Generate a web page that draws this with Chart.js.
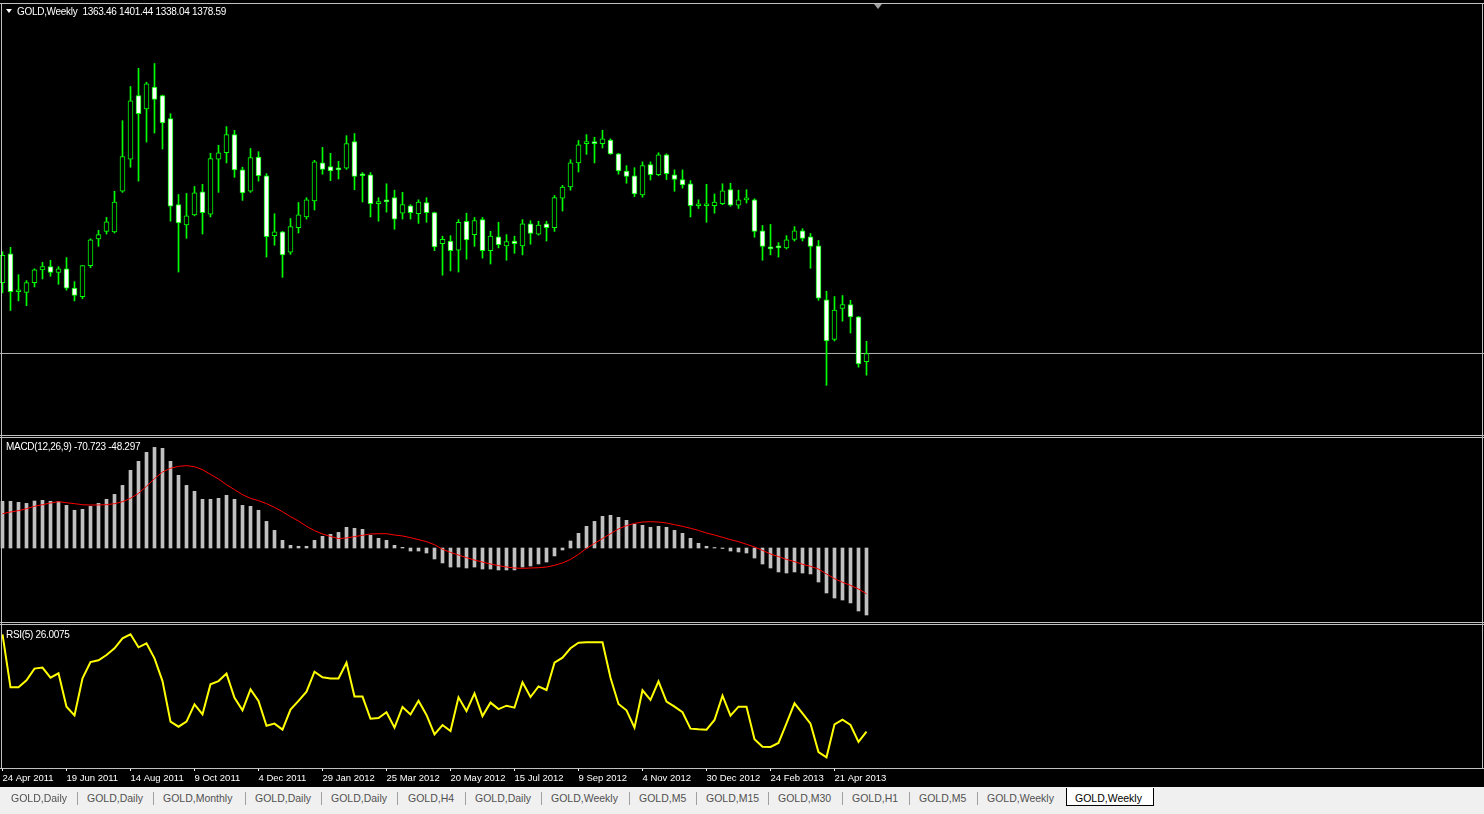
<!DOCTYPE html>
<html><head><meta charset="utf-8">
<script src="https://cdn.jsdelivr.net/npm/chart.js@4/dist/chart.umd.min.js"></script>
<style>
html,body{margin:0;padding:0;background:#f0f0f0;width:1484px;height:814px;overflow:hidden}
#win{position:absolute;left:0;top:0;width:1484px;height:787px;background:#000}
.ln{position:absolute;background:#c0c0c0}
canvas{position:absolute;left:0}
.lbl{position:absolute;color:#fff;font:10px "Liberation Sans",sans-serif;white-space:pre;line-height:12px;letter-spacing:-0.3px}
#tabs{position:absolute;left:0;top:787px;width:1484px;height:27px;background:#f0f0f0}
.tab{position:absolute;top:5px;font:10.5px "Liberation Sans",sans-serif;color:#505050;white-space:pre}
.sep{position:absolute;top:5px;width:1px;height:13px;background:#a0a0a0}
#act{position:absolute;left:1066px;top:1px;width:86px;height:17px;background:#fff;border:1px solid #000;border-top:none}
</style></head>
<body>
<div id="win">
  <canvas id="cPrice" width="1484" height="430" style="top:4px"></canvas>
  <canvas id="cMacd" width="1484" height="183" style="top:438px"></canvas>
  <canvas id="cRsi" width="1484" height="158" style="top:628px"></canvas>
  <div class="ln" style="left:0;top:3px;width:1484px;height:1px"></div>
  <div class="ln" style="left:1px;top:3px;width:1px;height:766px"></div>
  <div class="ln" style="left:1482px;top:3px;width:1px;height:766px"></div>
  <div class="ln" style="left:0;top:435px;width:1484px;height:1px"></div>
  <div class="ln" style="left:0;top:437px;width:1484px;height:1px"></div>
  <div class="ln" style="left:0;top:622px;width:1484px;height:1px"></div>
  <div class="ln" style="left:0;top:624px;width:1484px;height:1px"></div>
  <div class="ln" style="left:0;top:768px;width:1484px;height:1px"></div>
  <div style="position:absolute;left:874px;top:4px;width:0;height:0;border-left:4px solid transparent;border-right:4px solid transparent;border-top:5px solid #a0a0a0"></div>
  <div style="position:absolute;left:6px;top:9px;width:0;height:0;border-left:3px solid transparent;border-right:3px solid transparent;border-top:4px solid #fff"></div>
  <div class="lbl" style="left:17px;top:6px">GOLD,Weekly  1363.46 1401.44 1338.04 1378.59</div>
  <div class="lbl" style="left:6px;top:441px">MACD(12,26,9) -70.723 -48.297</div>
  <div class="lbl" style="left:6px;top:629px">RSI(5) 26.0075</div>
</div>
<div id="tabs"></div>
<script>
// ---------- data ----------
const tickLabels = ["24 Apr 2011","19 Jun 2011","14 Aug 2011","9 Oct 2011","4 Dec 2011","29 Jan 2012","25 Mar 2012","20 May 2012","15 Jul 2012","9 Sep 2012","4 Nov 2012","30 Dec 2012","24 Feb 2013","21 Apr 2013"];
const tickIndex = [0,8,16,24,32,40,48,56,64,72,80,88,96,104];

const open = [1511,1565,1494,1493,1511,1535,1541,1530,1537,1501,
 1485,1543,1593,1607,1606,1682,1742,1861,1836,1877,
 1861,1818,1657,1619,1638,1681,1639,1742,1754,1788,
 1722,1682,1746,1711,1599,1606,1568,1614,1634,1664,
 1735,1728,1726,1725,1775,1713,1713,1659,1666,1670,
 1641,1655,1640,1661,1642,1584,1589,1572,1626,1601,
 1629,1571,1597,1580,1589,1580,1621,1602,1621,1614,
 1669,1690,1735,1771,1772,1771,1778,1752,1720,1711,
 1675,1732,1713,1750,1713,1704,1696,1655,1655,1655,
 1659,1685,1656,1666,1666,1608,1578,1577,1576,1592,
 1608,1597,1580,1479,1405,1463,1470,1447,1363.46];
const high = [1569,1577,1526,1515,1537,1549,1553,1541,1558,1513,
 1543,1593,1609,1633,1682,1814,1878,1912,1886,1921,
 1862,1827,1676,1678,1691,1695,1753,1768,1803,1796,
 1727,1762,1756,1715,1640,1607,1631,1661,1670,1740,
 1764,1753,1738,1786,1790,1717,1717,1670,1696,1684,
 1680,1657,1666,1670,1643,1598,1599,1629,1641,1633,
 1633,1607,1624,1601,1598,1629,1627,1626,1626,1674,
 1693,1741,1777,1788,1783,1796,1780,1753,1730,1726,
 1737,1737,1754,1752,1722,1722,1702,1666,1695,1677,
 1696,1697,1684,1685,1668,1618,1620,1586,1599,1616,
 1612,1603,1590,1495,1485,1487,1478,1448,1401.44];
const low = [1492,1459,1477,1468,1503,1518,1523,1508,1497,1477,
 1481,1539,1579,1602,1604,1680,1727,1701,1774,1791,
 1761,1626,1531,1594,1636,1602,1634,1680,1735,1708,
 1665,1680,1701,1559,1581,1521,1564,1604,1630,1647,
 1714,1702,1705,1723,1685,1662,1634,1626,1643,1611,
 1630,1630,1622,1624,1571,1525,1533,1531,1555,1579,
 1557,1546,1576,1553,1566,1563,1583,1600,1589,1607,
 1645,1684,1718,1751,1735,1763,1751,1714,1697,1672,
 1671,1703,1711,1704,1682,1688,1634,1650,1624,1641,
 1657,1654,1650,1660,1596,1553,1563,1559,1574,1589,
 1589,1538,1478,1319,1402,1439,1417,1353,1338.04];
const close = [1562,1494,1495,1511,1535,1541,1530,1537,1501,1487,
 1543,1591,1601,1625,1662,1747,1851,1827,1883,1854,
 1810,1654,1623,1636,1679,1642,1743,1754,1788,1722,
 1679,1745,1711,1597,1606,1563,1616,1638,1666,1737,
 1723,1720,1722,1771,1710,1711,1659,1660,1662,1630,
 1657,1642,1662,1642,1578,1592,1571,1624,1591,1627,
 1571,1598,1582,1588,1584,1621,1603,1619,1614,1670,
 1690,1735,1769,1772,1771,1780,1752,1720,1710,1677,
 1730,1713,1750,1715,1704,1694,1655,1656,1655,1662,
 1683,1656,1666,1667,1607,1579,1574,1576,1591,1608,
 1594,1579,1482,1402,1460,1470,1447,1359,1378.59];

const macdHist = [49.3,49.3,48.2,47.1,49.6,50.3,49.3,48.9,45.0,39.8,
 40.8,44.0,47.1,51.4,56.6,66.1,82.0,91.5,101.0,106.2,
 105.2,91.5,76.7,66.1,59.8,51.4,51.4,52.4,55.6,51.4,
 45.0,44.0,39.8,28.1,18.6,8.1,2.8,1.8,1.8,8.1,
 12.3,14.4,16.5,21.8,20.8,19.7,13.4,10.2,8.1,2.8,
 0.7,-3.2,-3.2,-5.3,-11.6,-15.8,-20.1,-20.1,-21.1,-20.1,
 -22.2,-22.2,-23.2,-23.2,-23.2,-20.1,-19.0,-16.9,-14.8,-8.4,
 -2.1,7.4,15.5,22.9,28.1,33.4,34.5,32.4,29.2,25.0,
 23.9,21.8,22.9,21.8,18.6,15.5,10.2,4.9,1.8,0.5,
 -0.5,-3.2,-4.2,-5.3,-10.6,-16.9,-21.1,-25.3,-26.4,-25.3,
 -26.4,-27.4,-35.9,-47.5,-52.8,-54.9,-58.0,-66.5,-70.723];
const macdSignal = [36.2,38.0,39.4,41.5,44.0,45.7,47.5,48.9,47.8,46.8,
 45.7,45.4,45.4,45.7,46.8,48.9,52.4,57.7,65.1,73.2,
 80.2,84.1,86.2,86.9,85.8,82.7,77.7,72.8,66.8,61.6,
 56.3,52.4,50.0,46.8,42.9,38.3,33.1,28.5,22.9,18.3,
 14.8,12.3,9.9,10.6,12.0,13.4,14.8,15.1,15.1,13.7,
 12.7,10.9,8.8,6.7,3.5,-1.4,-4.6,-7.4,-10.2,-12.7,
 -14.8,-16.9,-18.6,-20.1,-21.1,-21.5,-21.1,-20.8,-20.1,-18.3,
 -15.8,-12.0,-6.7,-0.4,4.9,9.9,15.1,20.1,23.6,26.0,
 27.4,27.8,27.4,26.4,24.6,22.9,20.8,18.6,15.8,13.7,
 11.3,8.8,6.7,3.9,1.1,-2.5,-6.3,-9.1,-12.0,-14.4,
 -17.2,-19.3,-22.2,-27.4,-32.4,-36.2,-39.4,-43.3,-48.297];
const rsi5 = [95.5,57.6,57.6,62.6,71.0,71.7,64.5,67.6,43.8,37.6,
 64.0,75.7,76.9,80.7,85.5,92.6,95.5,86.2,89.0,78.3,
 62.1,33.1,29.5,33.1,45.5,38.3,59.8,62.1,67.4,50.2,
 41.2,56.2,47.9,30.2,31.7,27.4,41.7,47.9,54.5,68.8,
 64.8,64.0,64.0,75.2,51.0,51.0,35.2,35.7,39.8,28.8,
 43.6,38.3,48.1,37.9,24.0,30.7,26.4,50.5,40.7,53.3,
 37.1,46.7,42.1,44.5,43.1,61.2,50.7,58.3,55.7,75.2,
 78.8,85.5,89.5,89.8,89.8,89.8,64.5,45.7,41.2,28.8,
 55.5,48.6,61.9,47.4,43.8,39.8,28.1,27.6,27.4,34.3,
 51.7,37.4,43.8,43.8,20.5,15.2,15.0,17.9,31.9,46.2,
 39.0,31.7,11.4,7.6,31.2,34.5,30.7,18.6,26.0075];

const tabNames = ["GOLD,Daily","GOLD,Daily","GOLD,Monthly","GOLD,Daily","GOLD,Daily","GOLD,H4","GOLD,Daily","GOLD,Weekly","GOLD,M5","GOLD,M15","GOLD,M30","GOLD,H1","GOLD,M5","GOLD,Weekly","GOLD,Weekly"];

// ---------- layout constants ----------
const X_MIN = -0.3125, X_MAX = 185.1875;
const tabX = [11,87,163,255,331,408,475,551,639,706,778,852,919,987,1075];
const sepX = [77,153,245,321,397,465,541,629,696,768,842,909,977];

const tabs = document.getElementById('tabs');
const act = document.createElement('div'); act.id = 'act'; tabs.appendChild(act);
tabNames.forEach((n,i)=>{
  const d = document.createElement('div'); d.className='tab'; d.textContent=n;
  d.style.left = tabX[i]+'px';
  if (i === tabNames.length-1) d.style.color = '#000';
  tabs.appendChild(d);
});
sepX.forEach(x=>{ const s=document.createElement('div'); s.className='sep'; s.style.left=x+'px'; tabs.appendChild(s); });

const idx = close.map((_,i)=>i);
const base = {
  responsive:false, animation:false, events:[],
  layout:{padding:0},
  plugins:{legend:{display:false}, tooltip:{enabled:false}}
};
const hiddenX = {type:'linear', min:X_MIN, max:X_MAX, display:false, offset:false, grid:{offset:false}};

new Chart(document.getElementById('cPrice'), {
  type:'bar',
  data:{datasets:[
    {type:'bar', order:0, grouped:false, barThickness:5, minBarLength:2,
     data: idx.map(i=>({x:i, y:[Math.min(open[i],close[i]), Math.max(open[i],close[i])]})),
     backgroundColor: idx.map(i=> close[i] < open[i] ? '#ffffff' : '#000000'),
     borderColor:'#00ff00', borderWidth:1, borderSkipped:false},
    {type:'bar', order:1, grouped:false, barThickness:1,
     data: idx.map(i=>({x:i, y:[low[i], high[i]]})),
     backgroundColor:'#00ff00', borderWidth:0},
    {type:'line', order:2,
     data:[{x:X_MIN, y:close[close.length-1]},{x:X_MAX, y:close[close.length-1]}],
     borderColor:'#b0b0b0', borderWidth:1, pointRadius:0}
  ]},
  options:Object.assign({}, base, {scales:{
    x:hiddenX,
    y:{display:false, min:1228.0, max:2032.3}
  }})
});

new Chart(document.getElementById('cMacd'), {
  type:'bar',
  data:{datasets:[
    {type:'line', order:0, data: idx.map(i=>({x:i, y:macdSignal[i]})),
     borderColor:'#ff0000', borderWidth:1, pointRadius:0, tension:0},
    {type:'bar', order:1, grouped:false, barThickness:3,
     data: idx.map(i=>({x:i, y:macdHist[i]})), backgroundColor:'#c0c0c0', borderWidth:0}
  ]},
  options:Object.assign({}, base, {scales:{
    x:hiddenX,
    y:{display:false, min:-77.05, max:116.1}
  }})
});

new Chart(document.getElementById('cRsi'), {
  type:'line',
  data:{datasets:[
    {data: idx.map(i=>({x:i, y:rsi5[i]})), borderColor:'#ffff00', borderWidth:2, pointRadius:0, tension:0}
  ]},
  options:Object.assign({}, base, {scales:{
    x:{type:'linear', min:X_MIN, max:X_MAX, position:'bottom', offset:false,
       afterBuildTicks: s => { s.ticks = tickIndex.map(v=>({value:v})); },
       afterFit: s => { s.height = 18; },
       grid:{display:true, drawOnChartArea:false, drawTicks:true, tickLength:3, color:'#ffffff', lineWidth:1},
       border:{display:false},
       ticks:{color:'#ffffff', font:{family:'Liberation Sans', size:9.5}, align:'start', maxRotation:0, minRotation:0,
              autoSkip:false, padding:2, callback:(v,i)=> tickLabels[i]}
    },
    y:{display:false, min:0, max:100}
  }})
});
</script>
</body></html>
